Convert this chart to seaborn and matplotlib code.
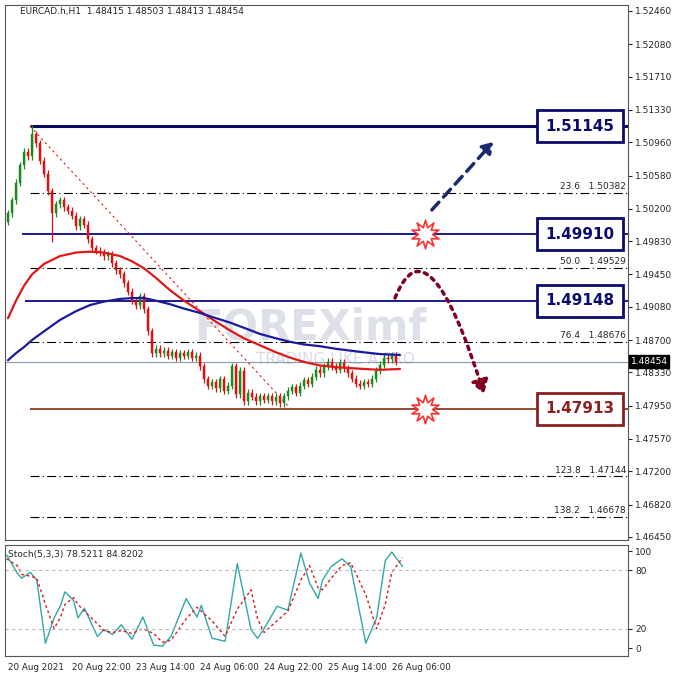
import matplotlib
matplotlib.use("Agg")
import matplotlib.pyplot as plt
import seaborn as sns
import numpy as np
import pandas as pd
from matplotlib.patches import FancyArrowPatch
from matplotlib.path import Path

closes = [1.5015,1.5030,1.5050,1.5070,1.5085,1.5080,1.5105,1.5095,
          1.5075,1.5060,1.5040,1.5015,1.5025,1.5030,1.5022,1.5018,
          1.5012,1.5000,1.5008,1.5002,1.4985,1.4975,1.4972,1.4970,
          1.4966,1.4968,1.4958,1.4950,1.4945,1.4935,1.4925,1.4915,
          1.4910,1.4920,1.4905,1.4880,1.4855,1.4860,1.4855,1.4858,
          1.4852,1.4856,1.4850,1.4855,1.4852,1.4856,1.4850,1.4852,
          1.4840,1.4825,1.4818,1.4822,1.4815,1.4825,1.4812,1.4818,
          1.4840,1.4808,1.4835,1.4800,1.4810,1.4805,1.4800,1.4806,
          1.4802,1.4806,1.4800,1.4805,1.4798,1.4806,1.4812,1.4816,
          1.4810,1.4818,1.4824,1.4820,1.4828,1.4836,1.4832,1.4840,
          1.4845,1.4840,1.4836,1.4844,1.4838,1.4832,1.4826,1.4820,
          1.4818,1.4822,1.4820,1.4826,1.4835,1.4842,1.4850,1.4848,1.4852,1.48454]
first_open = 1.5005
ma_idx = [0,2,4,6,9,13,17,20.5,24,28,31,34,37,40.5,44,48,52,55.5,59,63,67,70.5,74,78,82,85.5,89,93,98]
ma_red = [1.4895,1.4915,1.4932,1.4945,1.4957,1.4966,1.4970,1.4971,1.4970,1.4966,1.4960,1.4952,1.4941,1.4927,1.4915,1.4903,1.4891,1.4881,1.4872,1.4864,1.4856,1.4850,1.4845,1.4841,1.4839,1.4838,1.4837,1.4836,1.4837]
ma_blue = [1.4847,1.4855,1.4862,1.4870,1.4880,1.4893,1.4903,1.4910,1.4914,1.4917,1.4918,1.4918,1.4915,1.4911,1.4906,1.4901,1.4895,1.4890,1.4884,1.4877,1.4872,1.4868,1.4865,1.4863,1.4860,1.4858,1.4856,1.4854,1.4853]
st_X = [15,40,50,70,85,105,125,140,150,170,180,195,225,240,260,280,305,330,355,375,395,430,455,465,490,520,548,580,595,610,640,665,695,715,735,745,765,790,810,845,870,890,905,930]
st_K = [96,77,72,78,70,5,31,44,58,49,31,41,12,19,14,24,9,32,3,2,12,51,32,44,10,7,87,19,10,20,43,39,98,67,51,70,84,92,84,5,31,90,99,84]
st_D = [92,85,76,74,72,45,20,32,45,52,45,38,25,18,16,18,15,20,15,6,8,30,42,38,28,12,40,60,30,16,28,38,70,85,62,60,72,85,88,55,20,45,78,93]
hlevels = [1.51145,1.49910,1.49148,1.47913]
fib_levels = [1.50382,1.49529,1.48676,1.47144,1.46678]
fib_names = ["23.6","50.0","76.4","123.8","138.2"]
yticks = [1.52460,1.52080,1.51710,1.51330,1.50960,1.50580,1.50200,1.49830,1.49450,1.49080,1.48700,1.48330,1.47950,1.47570,1.47200,1.46820,1.46450]
xlabels = ["20 Aug 2021","20 Aug 22:00","23 Aug 14:00","24 Aug 06:00","24 Aug 22:00","25 Aug 14:00","26 Aug 06:00"]

sns.set_style("white")
plt.rcParams['font.family'] = ['DejaVu Sans']
W = 678
fig = plt.figure(figsize=(6.78,6.78), dpi=100)
def fy(p): return 1 - p/W
ax = fig.add_axes([5/W, fy(540), 623/W, 535/W])
ax2 = fig.add_axes([5/W, fy(656), 623/W, 111/W])
ppx = 0.00011426
def px2p(y): return 1.5246 - (y-11)*ppx
def px2b(x): return (x-8)/4
for a in (ax, ax2):
    a.set_xlim(px2b(5), px2b(628))
    for s in a.spines.values():
        s.set_color('#555'); s.set_linewidth(0.8)
ax.set_ylim(px2p(540), px2p(5))

opens = [first_open] + closes[:-1]
for i,(o,c) in enumerate(zip(opens, closes)):
    col = '#1a8a1a' if c >= o else '#e01010'
    hi = max(o,c) + 0.0004; lo = min(o,c) - 0.0004
    if i == 6: hi = 1.5116
    if i == 11: lo = 1.4982
    ax.vlines(i, lo, hi, color=col, lw=0.9, zorder=3)
    ax.bar(i, max(abs(c-o),0.00008), bottom=min(o,c), width=0.7, color=col, edgecolor=col, lw=0.3, zorder=4)

sns.lineplot(x=ma_idx, y=ma_red, ax=ax, color='#e01818', lw=1.6, zorder=5)
sns.lineplot(x=ma_idx, y=ma_blue, ax=ax, color='#1a1aa0', lw=1.6, zorder=5)

xr = px2b(628)
ax.hlines(hlevels[0], px2b(30), xr, color='#0a0a60', lw=2.2, zorder=2)
ax.hlines(hlevels[1], px2b(22), xr, color='#0a0a80', lw=1.3, zorder=2)
ax.hlines(hlevels[2], px2b(25), xr, color='#0a0a80', lw=1.3, zorder=2)
ax.hlines(hlevels[3], px2b(30), xr, color='#8b3a20', lw=1.3, zorder=2)
for lv, nm in zip(fib_levels, fib_names):
    ax.hlines(lv, px2b(30), xr, color='black', lw=0.8, linestyles=(0,(8,3,1,3)), zorder=2)
    ax.text(px2b(626), lv+0.0002, f"{nm}   {lv:.5f}", fontsize=6.5, ha='right', va='bottom')
ax.axhline(1.48454, color='#8899aa', lw=0.8, zorder=1)
ax.plot([px2b(30), px2b(290)], [1.51145, px2p(408)], color='#e01818', lw=0.8, ls=(0,(2,3)), zorder=2)

for lv, ec in zip(hlevels, ['#0a0a70','#0a0a70','#0a0a70','#8b2020']):
    ax.text(px2b(580), lv, f"{lv:.5f}", fontsize=11, fontweight='bold', ha='center', va='center',
            color=ec, zorder=7,
            bbox=dict(boxstyle='square,pad=0.55', fc='white', ec=ec, lw=2))

ax.add_patch(FancyArrowPatch((px2b(430), px2p(212)), (px2b(495), px2p(140)),
             arrowstyle='-|>,head_length=6,head_width=4', color='#1a2a70', lw=2.5, ls=(0,(3,2)), zorder=6))
arc = Path([(px2b(395), px2p(298)), (px2b(428), px2p(215)), (px2b(484), px2p(394))],
           [Path.MOVETO, Path.CURVE3, Path.CURVE3])
ax.add_patch(FancyArrowPatch(path=arc, arrowstyle='-|>,head_length=8,head_width=5',
             color='#800020', lw=2.5, ls=(0,(1,1.5)), zorder=6))
ax.scatter([px2b(425), px2b(425)], [1.49910, 1.47913], marker=(10,1,0), s=420, facecolor='white',
           edgecolor='#ff3030', lw=1.2, zorder=8)

ax.text(px2b(310), px2p(327), "FOREXimf", fontsize=30, fontweight='bold', color='#d0d4e0', alpha=0.7,
        ha='center', va='center', zorder=0)
ax.text(px2b(335), px2p(360), "TRADING LIKE A PRO", fontsize=11, color='#d8dce6', ha='center', va='center', zorder=0)
ax.text(px2b(20), px2p(12), "EURCAD.h,H1  1.48415 1.48503 1.48413 1.48454", fontsize=6.5, va='center')

ax.yaxis.tick_right()
ax.set_yticks(yticks)
ax.set_yticklabels([f"{t:.5f}" for t in yticks], fontsize=6.5)
ax.tick_params(axis='y', length=3, pad=2)
ax.set_xticks([])
ax.text(1.004, 1.48454, "1.48454", transform=ax.get_yaxis_transform(), fontsize=6.5, color='white',
        va='center', ha='left', bbox=dict(boxstyle='square,pad=0.2', fc='black', ec='black'))

sb = [ (X/2.31 - 8)/4 for X in st_X ]
sns.lineplot(x=sb, y=st_K, ax=ax2, color='#30a8a8', lw=1.0)
sns.lineplot(x=sb, y=st_D, ax=ax2, color='#e01818', lw=1.0, ls=(0,(2,2)))
ax2.set_ylim(-8.2, 106.2)
for v in (80,20):
    ax2.axhline(v, color='#bbbbbb', lw=0.8, ls=(0,(3,3)))
ax2.yaxis.tick_right()
ax2.set_yticks([100,80,20,0])
ax2.set_yticklabels(['100','80','20','0'], fontsize=6.5)
ax2.tick_params(axis='y', length=3, pad=2)
ax2.set_xticks([16*k for k in range(7)])
ax2.set_xticklabels(xlabels, fontsize=6.3, ha='left')
ax2.tick_params(axis='x', length=3, pad=2)
ax2.text(px2b(8), 96, "Stoch(5,3,3) 78.5211 84.8202", fontsize=6.5, va='center')

fig.savefig("out.png", dpi=100)
